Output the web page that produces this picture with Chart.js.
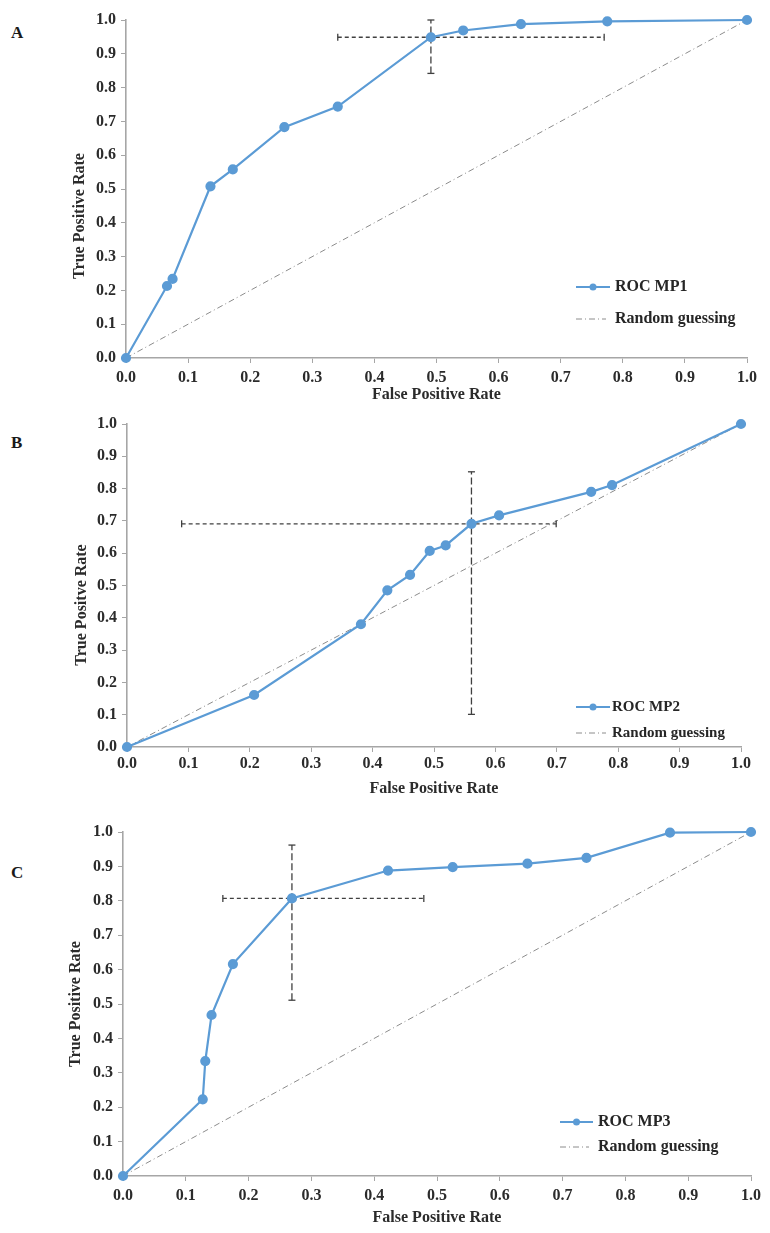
<!DOCTYPE html>
<html>
<head>
<meta charset="utf-8">
<script src="https://cdn.jsdelivr.net/npm/chart.js@4.4.1/dist/chart.umd.min.js"></script>
<style>
  html, body { margin: 0; padding: 0; background: #fff; }
  body { width: 770px; height: 1233px; position: relative; overflow: hidden; }
  .panel { position: absolute; left: 0; }
  .tag { position: absolute; left: 11px; font: bold 17px "Liberation Serif", "Times New Roman", serif; color: #1a1a1a; }
</style>
</head>
<body>
<div class="tag" style="top:23px">A</div>
<div class="tag" style="top:433px">B</div>
<div class="tag" style="top:863px">C</div>
<div class="panel" id="wrapA"><canvas id="chartA"></canvas></div>
<div class="panel" id="wrapB"><canvas id="chartB"></canvas></div>
<div class="panel" id="wrapC"><canvas id="chartC"></canvas></div>
<script>
// ROC curves for three models, each with an error cross at the operating point

const AXIS  = '#a6a6a6';
const TEXT  = '#2b2b2b';
const BLUE  = '#5b9bd5';
const ERR   = '#404040';
const DIAG  = '#8c8c8c';
const SERIF = '"Liberation Serif", "Times New Roman", serif';

// ── data ──
const fprA = [0, 0.066, 0.075, 0.136, 0.172, 0.255, 0.341, 0.491, 0.543, 0.636, 0.775, 1.0];
const tprA = [0, 0.213, 0.234, 0.508, 0.558, 0.683, 0.744, 0.949, 0.969, 0.988, 0.996, 1.0];
const errA = { x: 0.491, y: 0.949, xLo: 0.341, xHi: 0.770, yLo: 0.842, yHi: 1.0 };

const fprB = [0, 0.207, 0.381, 0.424, 0.461, 0.493, 0.519, 0.561, 0.606, 0.756, 0.790, 1.0];
const tprB = [0, 0.161, 0.380, 0.485, 0.533, 0.607, 0.624, 0.691, 0.717, 0.790, 0.811, 1.0];
const errB = { x: 0.561, y: 0.691, xLo: 0.089, xHi: 0.699, yLo: 0.101, yHi: 0.852 };

const fprC = [0, 0.127, 0.131, 0.141, 0.175, 0.269, 0.422, 0.525, 0.644, 0.738, 0.871, 1.0];
const tprC = [0, 0.223, 0.334, 0.468, 0.616, 0.807, 0.888, 0.898, 0.908, 0.925, 0.998, 1.0];
const errC = { x: 0.269, y: 0.807, xLo: 0.159, xHi: 0.479, yLo: 0.511, yHi: 0.962 };

const diagX = [0, 1];
const diagY = [0, 1];
const tickLabels = ['0.0','0.1','0.2','0.3','0.4','0.5','0.6','0.7','0.8','0.9','1.0'];

// ── legend + y title drawn by hand (legend sits inside the plot) ──
const decor = {
  id: 'decor',
  afterDraw(chart, args, o) {
    const ctx = chart.ctx;
    ctx.save();
    // ROC entry
    ctx.strokeStyle = BLUE; ctx.lineWidth = 2; ctx.setLineDash([]);
    ctx.beginPath(); ctx.moveTo(o.x0, o.y1); ctx.lineTo(o.x1, o.y1); ctx.stroke();
    ctx.fillStyle = BLUE;
    ctx.beginPath(); ctx.arc((o.x0 + o.x1) / 2, o.y1, 3.5, 0, Math.PI * 2); ctx.fill();
    // diagonal entry
    ctx.strokeStyle = DIAG; ctx.lineWidth = 1; ctx.setLineDash([6, 3, 1, 3]);
    ctx.beginPath(); ctx.moveTo(o.x0, o.y2); ctx.lineTo(o.x1 - 4, o.y2); ctx.stroke();
    ctx.setLineDash([]);
    ctx.fillStyle = '#262626';
    ctx.font = `bold ${o.size}px ${SERIF}`;
    ctx.textBaseline = 'middle';
    ctx.fillText(o.label, o.tx, o.y1);
    ctx.fillText('Random guessing', o.tx, o.y2);
    // y axis title
    ctx.fillStyle = TEXT;
    ctx.font = `bold 16px ${SERIF}`;
    ctx.textAlign = 'center';
    ctx.translate(o.yt.x, o.yt.y);
    ctx.rotate(-Math.PI / 2);
    ctx.fillText(o.yt.text, 0, 0);
    ctx.restore();
  }
};

function makePanel(id, fpr, tpr, err, box) {
  const canvas = document.getElementById('chart' + id);
  const wrap = document.getElementById('wrap' + id);
  wrap.style.top = box.ct + 'px';
  canvas.width = 770; canvas.height = box.ch;
  canvas.style.width = '770px'; canvas.style.height = box.ch + 'px';

  const lh = 16 * 1.2;
  const xAxisH = box.ct + box.ch - box.bottom;
  const tickFont = { family: SERIF, size: 16, weight: 'bold' };
  const titleFont = { family: SERIF, size: 16, weight: 'bold' };

  const axisCommon = {
    type: 'linear', min: 0, max: 1,
    grid: { drawOnChartArea: false, drawTicks: true, tickLength: 5, color: AXIS, lineWidth: 1 },
    border: { color: AXIS, width: 1.6 },
  };

  return new Chart(canvas, {
    type: 'scatter',
    data: {
      datasets: [
        {
          label: box.legend,
          data: fpr.map((x, i) => ({ x, y: tpr[i] })),
          showLine: true, borderColor: BLUE, backgroundColor: BLUE,
          borderWidth: 2.2, pointRadius: 4, pointHoverRadius: 4, clip: false,
        },
        {
          label: 'err-x',
          data: [{ x: err.xLo, y: err.y }, { x: err.xHi, y: err.y }],
          showLine: true, borderColor: ERR, borderWidth: 1.3, borderDash: [4, 3],
          pointStyle: 'line', rotation: 90, pointRadius: 3.5, pointBorderColor: ERR,
          pointBorderWidth: 1.3, clip: false,
        },
        {
          label: 'err-y',
          data: [{ x: err.x, y: err.yLo }, { x: err.x, y: err.yHi }],
          showLine: true, borderColor: ERR, borderWidth: 1.3, borderDash: [7, 3],
          pointStyle: 'line', rotation: 0, pointRadius: 3.5, pointBorderColor: ERR,
          pointBorderWidth: 1.3, clip: false,
        },
        {
          label: 'Random guessing',
          data: diagX.map((x, i) => ({ x, y: diagY[i] })),
          showLine: true, borderColor: DIAG, borderWidth: 1, borderDash: [6, 3, 1, 3],
          pointRadius: 0, clip: false,
        },
      ]
    },
    options: {
      responsive: false, animation: false, events: [],
      layout: { padding: { left: 0, top: box.top - box.ct, right: 770 - box.right, bottom: 0 } },
      plugins: {
        legend: { display: false }, tooltip: { enabled: false },
        decor: {
          x0: box.lg.x0, x1: box.lg.x1, tx: box.lg.tx,
          y1: box.lg.y1 - box.ct, y2: box.lg.y2 - box.ct,
          size: box.lg.size, label: box.legend,
          yt: { text: box.yTitle, x: box.yTitleX, y: box.yTitleY - box.ct },
        },
      },
      scales: {
        x: {
          ...axisCommon, position: 'bottom',
          afterFit: s => { s.height = xAxisH; },
          afterBuildTicks: s => { s.ticks = tickLabels.map(t => ({ value: +t })); },
          ticks: { font: tickFont, color: TEXT, padding: box.xPad, maxRotation: 0, autoSkip: false,
                   callback: v => v.toFixed(1) },
          title: { display: true, text: 'False Positive Rate', font: titleFont, color: TEXT,
                   padding: { top: 0, bottom: box.ct + box.ch - box.xTitle - lh / 2 } },
        },
        y: {
          ...axisCommon, position: 'left',
          afterFit: s => { s.width = box.left; },
          afterBuildTicks: s => { s.ticks = tickLabels.map(t => ({ value: +t })); },
          ticks: { font: tickFont, color: TEXT, padding: 5, autoSkip: false,
                   callback: v => v.toFixed(1) },
          title: { display: false },
        },
      }
    },
    plugins: [decor]
  });
}

makePanel('A', fprA, tprA, errA, {
  ct: 0, ch: 405, top: 20, bottom: 358, left: 126, right: 747,
  xPad: 5, xTitle: 395, yTitleX: 80, yTitleY: 216, yTitle: 'True Positive Rate', legend: 'ROC MP1',
  lg: { x0: 576, x1: 610, tx: 615, y1: 287, y2: 319, size: 16 },
});

makePanel('B', fprB, tprB, errB, {
  ct: 405, ch: 400, top: 424, bottom: 747, left: 127, right: 741,
  xPad: 2, xTitle: 789, yTitleX: 82, yTitleY: 605, yTitle: 'True Positve Rate', legend: 'ROC MP2',
  lg: { x0: 576, x1: 610, tx: 612, y1: 707, y2: 733, size: 15 },
});

makePanel('C', fprC, tprC, errC, {
  ct: 805, ch: 428, top: 832, bottom: 1176, left: 123, right: 751,
  xPad: 5, xTitle: 1218, yTitleX: 76, yTitleY: 1004, yTitle: 'True Positive Rate', legend: 'ROC MP3',
  lg: { x0: 560, x1: 593, tx: 598, y1: 1122, y2: 1147, size: 16 },
});
</script>
</body>
</html>
